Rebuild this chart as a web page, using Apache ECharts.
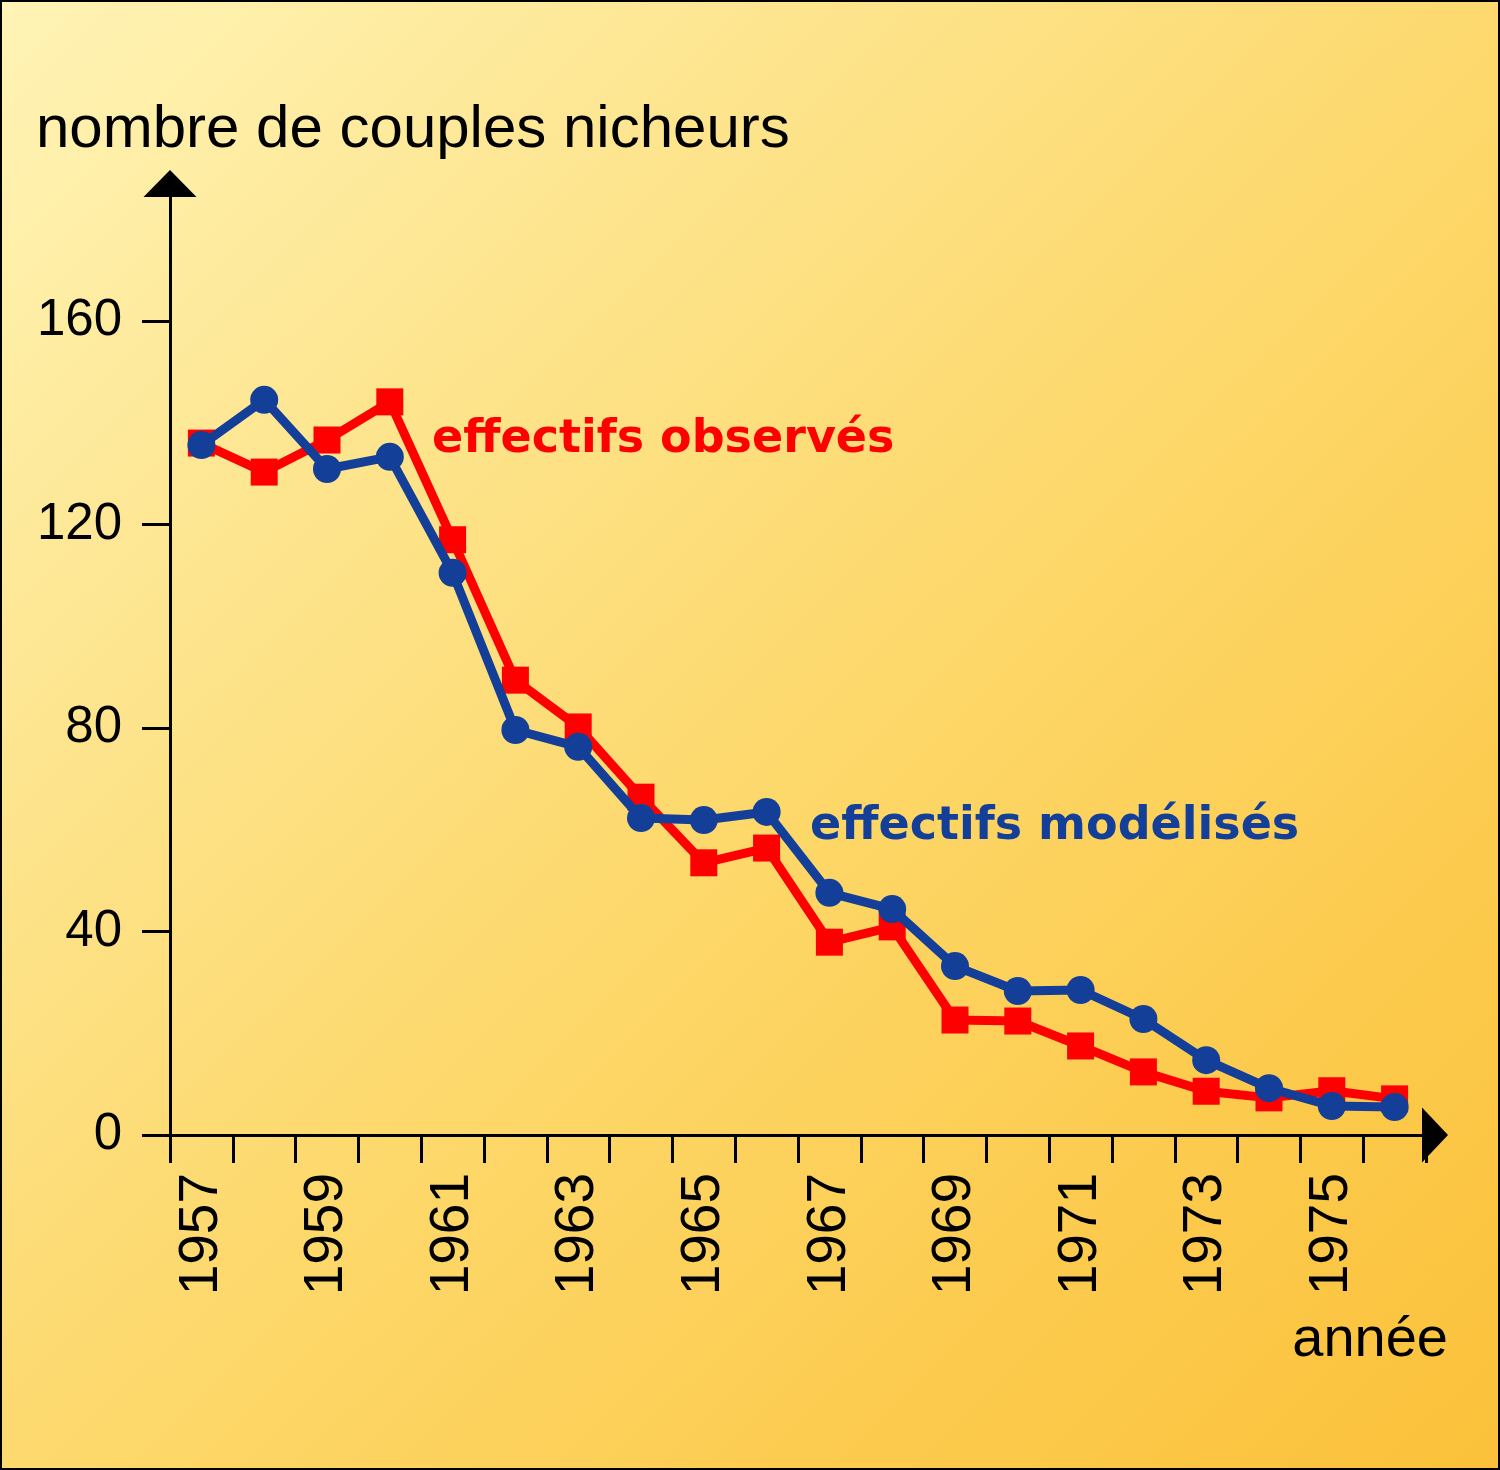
<!DOCTYPE html>
<html>
<head>
<meta charset="utf-8">
<script src="https://cdn.jsdelivr.net/npm/echarts@6/dist/echarts.min.js"></script>
<style>
  html, body { margin: 0; padding: 0; }
  #wrap { position: relative; width: 1500px; height: 1470px;
    background: linear-gradient(to bottom right, #fff4b6 0%, #fde38a 30%, #fdd768 55%, #fcca4c 80%, #fbc13a 100%); }
  #chart { position: absolute; left: 0; top: 0; width: 1500px; height: 1470px; }
  #frame { position: absolute; left: 0; top: 0; width: 1500px; height: 1470px; box-sizing: border-box;
    border: 2px solid #000; pointer-events: none; }
</style>
</head>
<body>
<div id="wrap"><div id="chart"></div><div id="frame"></div></div>
<script>
const years = ['1957','1958','1959','1960','1961','1962','1963','1964','1965','1966',
               '1967','1968','1969','1970','1971','1972','1973','1974','1975','1976'];
const observed = [136.0, 130.3, 136.6, 144.1, 117.0, 89.4, 80.2, 66.4, 53.5, 56.4,
                  37.9, 40.9, 22.6, 22.4, 17.5, 12.4, 8.6, 7.3, 8.7, 7.1];
const modelled = [135.6, 144.5, 130.9, 133.3, 110.5, 79.6, 76.3, 62.3, 61.9, 63.5,
                  47.6, 44.4, 33.2, 28.3, 28.5, 22.8, 14.7, 9.2, 5.7, 5.5];
const yTicks = [0, 40, 80, 120, 160];
const seriesNames = ['effectifs observés', 'effectifs modélisés'];
const yTitle = 'nombre de couples nicheurs';
const xTitle = 'année';

const RED = '#ff0000';
const BLUE = '#133f99';
const sans = '"Liberation Sans", Arial, Helvetica, sans-serif';
const bold = '"DejaVu Sans", "Liberation Sans", sans-serif';

const chart = echarts.init(document.getElementById('chart'), null, { renderer: 'canvas' });
chart.setOption({
  backgroundColor: 'transparent',
  animation: false,
  title: [
    { text: yTitle, left: 36, top: 100, padding: 0,
      textStyle: { fontFamily: sans, fontSize: 60, fontWeight: 'normal', color: '#000' } },
    { text: xTitle, right: 52, top: 1313, padding: 0,
      textStyle: { fontFamily: sans, fontSize: 56, fontWeight: 'normal', color: '#000' } }
  ],
  legend: [
    { data: [{ name: seriesNames[0], textStyle: { color: RED } }],
      left: 427, top: 417, padding: 0, icon: 'none', itemWidth: 0, selectedMode: false,
      textStyle: { fontFamily: bold, fontSize: 46, fontWeight: 'bold' } },
    { data: [{ name: seriesNames[1], textStyle: { color: BLUE } }],
      left: 805, top: 804, padding: 0, icon: 'none', itemWidth: 0, selectedMode: false,
      textStyle: { fontFamily: bold, fontSize: 46, fontWeight: 'bold' } }
  ],
  grid: { left: 170, right: 74, top: 183.6, bottom: 335, containLabel: false },
  xAxis: {
    type: 'category',
    data: years,
    boundaryGap: true,
    axisLine: { show: true, lineStyle: { color: '#000', width: 3 },
      symbol: ['none', 'triangle'], symbolSize: [55, 26], symbolOffset: [0, 9] },
    axisTick: { show: true, interval: 0, length: 28, inside: false, lineStyle: { color: '#000', width: 3 } },
    axisLabel: { interval: 1, rotate: 90, margin: 38, color: '#000', fontFamily: sans, fontSize: 55 },
    splitLine: { show: false }
  },
  yAxis: {
    type: 'value',
    min: 0, max: 187,
    axisLine: { show: true, lineStyle: { color: '#000', width: 3 },
      symbol: ['none', 'triangle'], symbolSize: [53, 27] },
    axisTick: { show: true, length: 28, inside: false, customValues: yTicks, lineStyle: { color: '#000', width: 3 } },
    axisLabel: { customValues: yTicks, margin: 48, color: '#000', fontFamily: sans, fontSize: 51 },
    splitLine: { show: false }
  },
  series: [
    { name: seriesNames[0], type: 'line', data: observed,
      symbol: 'rect', symbolSize: 27, showAllSymbol: true,
      lineStyle: { color: RED, width: 9 }, itemStyle: { color: RED }, z: 2 },
    { name: seriesNames[1], type: 'line', data: modelled,
      symbol: 'circle', symbolSize: 28, showAllSymbol: true,
      lineStyle: { color: BLUE, width: 9 }, itemStyle: { color: BLUE }, z: 3 }
  ]
});
</script>
</body>
</html>
